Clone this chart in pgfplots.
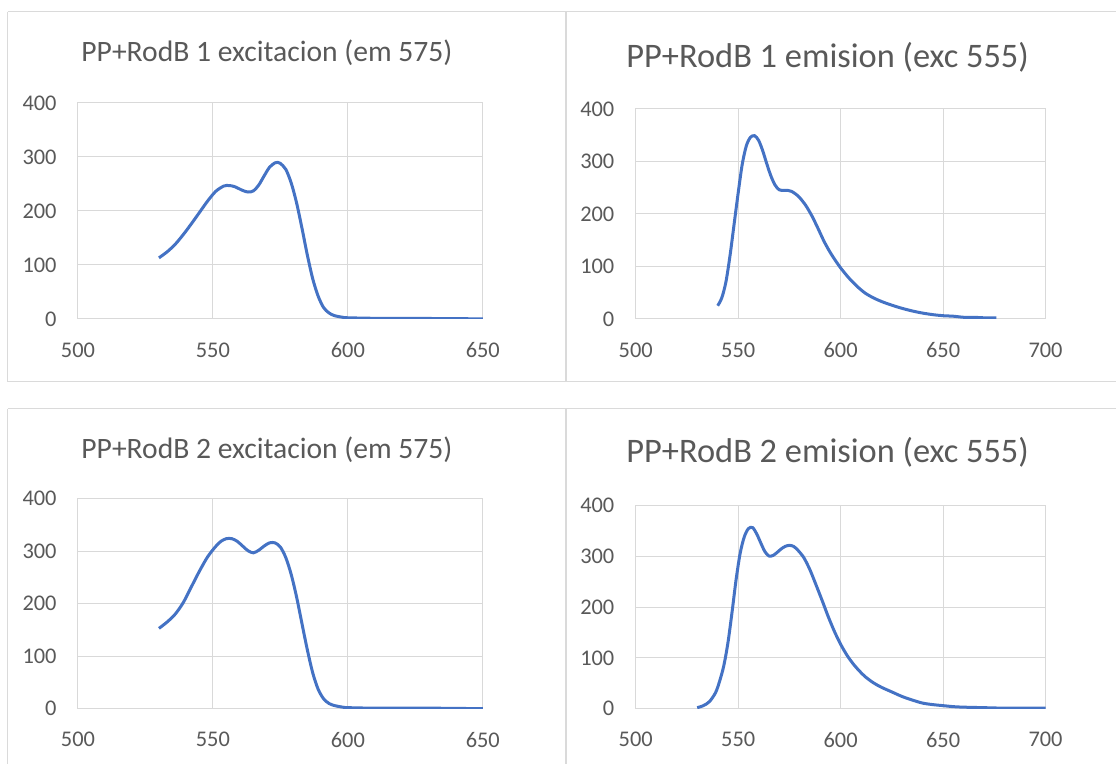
\documentclass[border=0pt]{standalone}
\usepackage{fontspec}
\setmainfont{Carlito}
\usepackage{pgfplots}
\pgfplotsset{compat=1.18}
\definecolor{lineblue}{HTML}{4472C4}
\definecolor{gridc}{HTML}{D9D9D9}
\definecolor{boxc}{HTML}{DADADA}
\definecolor{labc}{HTML}{595959}

% data: wavelength (nm) vs intensity
\pgfplotstableread{
x y
530 113
533 124
536 138
539 156
542 176
545 197
548 218
551 236
554 246
556 247
558 245
561 238
563 235
565 237
567 248
569 265
571 281
573 289
574 290
575 288
577 277
579 252
581 215
583 168
585 118
587 74
589 42
591 21
593 11
595 6
598 3
600 2
610 1
620 1
650 0
}\excA
\pgfplotstableread{
x y
540 25
542 40
544 70
546 120
548 180
550 240
552 295
554 330
556 346
558 349
560 340
562 320
564 295
566 272
568 255
570 246
572 245
574 245
576 243
578 238
580 231
583 216
586 196
589 172
592 147
595 126
598 108
600 97
604 78
608 62
612 49
616 40
620 33
625 26
630 20
635 15
640 11
645 8
650 6
655 5
660 3
665 3
670 2
676 2
}\emA
\pgfplotstableread{
x y
530 153
533 165
536 180
539 202
542 232
545 262
548 289
551 309
553 319
555 324
557 324
559 319
561 310
563 301
565 297
567 302
569 310
571 316
573 316
575 308
577 288
579 256
581 213
583 162
585 112
587 68
589 37
591 19
593 10
595 6
598 3
600 2
610 1
630 1
650 0
}\excB
\pgfplotstableread{
x y
530 2
533 6
536 14
539 32
541 55
543 85
545 130
547 190
549 255
551 307
553 339
555 355
557 357
559 345
561 327
563 310
565 301
567 302
569 308
571 315
573 320
575 322
577 320
579 313
582 298
585 274
588 244
591 213
594 181
597 152
600 127
603 106
606 89
609 75
612 63
616 51
620 42
625 33
630 24
635 17
640 11
645 8
650 6
655 4
660 3
670 2
680 1
690 1
700 1
}\emB

\pgfplotsset{
  excel/.style={
    scale only axis, anchor=south west,
    ymin=0, ymax=400, ytick={0,100,200,300,400},
    grid=major,
    grid style={draw=gridc, line width=0.5pt},
    axis line style={draw=gridc, line width=0.5pt},
    major tick length=0pt,
    tick style={draw=none},
    /pgf/number format/assume math mode=true,
    ticklabel style={font=\fontsize{11.2}{13}\selectfont, text=labc},
    yticklabel style={anchor=east, inner sep=0pt, xshift=-10.5pt},
    xticklabel style={anchor=center, inner sep=0pt, yshift=-15.5pt},
  },
  curve/.style={color=lineblue, line width=1.5pt, mark=none, smooth},
  excA/.style={xmin=500, xmax=650, xtick={500,550,600,650}},
  emA/.style={xmin=500, xmax=700, xtick={500,550,600,650,700}},
}

\begin{document}
\begin{tikzpicture}
\fill[white] (0,0) rectangle (558pt,382pt);
% chart frames
\draw[boxc, line width=0.5pt] (4pt,376pt) -- (558pt,376pt)
  (4pt,191pt) -- (558pt,191pt)
  (4pt,177.5pt) -- (558pt,177.5pt)
  (4pt,376pt) -- (4pt,191pt)
  (4pt,177.5pt) -- (4pt,0pt);
\draw[boxc, line width=1.2pt] (283pt,376pt) -- (283pt,191pt)
  (283pt,177.5pt) -- (283pt,0pt);

\begin{axis}[excel, excA, at={(39pt,222.5pt)}, width=202.5pt, height=108pt]
\addplot[curve] table {\excA};
\end{axis}
\node[text=labc, font=\fontsize{14.8}{16}\selectfont] at (133.5pt,355.5pt) {PP+RodB 1 excitacion (em 575)};

\begin{axis}[excel, emA, at={(318pt,222.5pt)}, width=205pt, height=105pt]
\addplot[curve] table {\emA};
\end{axis}
\node[text=labc, font=\fontsize{17.2}{19}\selectfont] at (414pt,353.5pt) {PP+RodB 1 emision (exc 555)};

\begin{axis}[excel, excA, at={(39pt,27.5pt)}, width=202.5pt, height=105pt]
\addplot[curve] table {\excB};
\end{axis}
\node[text=labc, font=\fontsize{14.8}{16}\selectfont] at (133.5pt,157pt) {PP+RodB 2 excitacion (em 575)};

\begin{axis}[excel, emA, at={(318pt,27.5pt)}, width=205pt, height=101.5pt]
\addplot[curve] table {\emB};
\end{axis}
\node[text=labc, font=\fontsize{17.2}{19}\selectfont] at (414pt,155.5pt) {PP+RodB 2 emision (exc 555)};

\useasboundingbox (0,0) rectangle (558pt,382pt);
\end{tikzpicture}
\end{document}
